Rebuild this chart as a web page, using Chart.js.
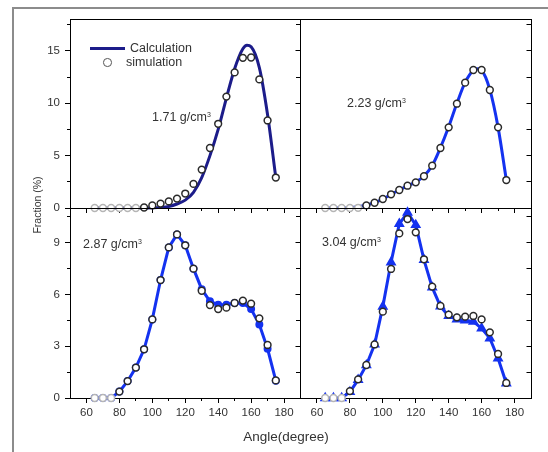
<!DOCTYPE html>
<html>
<head>
<meta charset="utf-8">
<script src="https://cdn.jsdelivr.net/npm/chart.js@4.4.0/dist/chart.umd.min.js"></script>
<style>
  body { margin: 0; background: #fff; }
  #wrap { position: relative; width: 548px; height: 452px; overflow: hidden;
          font-family: "Liberation Sans", Arial, sans-serif; color: #333; }
  canvas { position: absolute; left: 0; top: 0; }
  .frame { position: absolute; left: 12px; top: 7px; width: 600px; height: 500px;
           border-top: 2px solid #8c8c8c; border-left: 2px solid #8c8c8c; }
  .t { position: absolute; white-space: nowrap; font-size: 12.5px; line-height: 14px; }
  .t sup { font-size: 7px; vertical-align: top; position: relative; top: -2px; }
</style>
</head>
<body>
<div id="wrap">
  <div class="frame"></div>
  <canvas id="p171" width="548" height="452"></canvas>
  <canvas id="p223" width="548" height="452"></canvas>
  <canvas id="p287" width="548" height="452"></canvas>
  <canvas id="p304" width="548" height="452"></canvas>

  <!-- legend -->
  <div style="position:absolute;left:90px;top:46.5px;width:35px;height:3px;background:#1c1c8a"></div>
  <div class="t" style="left:130px;top:41px">Calculation</div>
  <div style="position:absolute;left:103px;top:58px;width:8.5px;height:8.5px;box-sizing:border-box;border:1.4px solid #555;border-radius:50%;background:#fff"></div>
  <div class="t" style="left:126px;top:55px">simulation</div>

  <!-- densities -->
  <div class="t" style="left:152px;top:110px">1.71 g/cm<sup>3</sup></div>
  <div class="t" style="left:347px;top:96px">2.23 g/cm<sup>3</sup></div>
  <div class="t" style="left:83px;top:237px">2.87 g/cm<sup>3</sup></div>
  <div class="t" style="left:322px;top:235px">3.04 g/cm<sup>3</sup></div>

  <!-- axis titles -->
  <div class="t" style="left:-3px;top:198px;width:80px;text-align:center;font-size:10.5px;transform:rotate(-90deg)">Fraction (%)</div>
  <div class="t" style="left:236px;top:430px;width:100px;text-align:center;font-size:13.5px">Angle(degree)</div>
</div>

<script>
// simulation angles (degree)
const angles = [65, 70, 75, 80, 85, 90, 95, 100, 105, 110, 115, 120, 125, 130, 135, 140, 145, 150, 155, 160, 165, 170, 175];
const peakAngles = [65, 70, 75, 80, 85, 90, 95, 100, 105, 110, 115, 120, 125, 130, 135, 140, 145, 150, 155, 157.5, 160, 165, 170, 175];

// 1.71 g/cm3
const sim171 = [0, 0, 0, 0, 0, 0, 0.05, 0.25, 0.42, 0.63, 0.9, 1.38, 2.3, 3.67, 5.73, 8.04, 10.64, 12.95, 14.34, 14.37, 12.28, 8.36, 2.91];
const calc171 = [0, 0, 0, 0, 0, 0, 0, 0.02, 0.06, 0.15, 0.38, 0.75, 1.5, 2.9, 5.0, 7.5, 10.5, 13.3, 15.2, 15.55, 15.4, 13.4, 8.9, 2.9];
// 2.23 g/cm3
const sim223 = [0, 0, 0, 0, 0.02, 0.25, 0.5, 0.86, 1.31, 1.72, 2.13, 2.45, 3.03, 4.04, 5.73, 7.7, 9.96, 11.97, 13.18, 13.18, 11.27, 7.7, 2.67];
const calc223 = [0, 0, 0, 0.03, 0.12, 0.28, 0.52, 0.85, 1.3, 1.72, 2.12, 2.47, 3.05, 4.05, 5.75, 7.75, 10.0, 12.0, 13.15, 13.3, 13.15, 11.3, 7.7, 2.7];
// 2.87 g/cm3
const sim287 = [0, 0, 0, 0.37, 0.98, 1.76, 2.82, 4.55, 6.83, 8.72, 9.47, 8.84, 7.49, 6.21, 5.38, 5.15, 5.23, 5.5, 5.64, 5.46, 4.61, 3.07, 1.02];
const calc287 = [0, 0, 0, 0.37, 0.98, 1.76, 2.82, 4.55, 6.83, 8.72, 9.47, 8.84, 7.49, 6.3, 5.6, 5.4, 5.4, 5.5, 5.5, 5.15, 4.25, 2.85, 1.0];
// 3.04 g/cm3
const sim304 = [0, 0, 0, 0.4, 1.08, 1.91, 3.1, 5.0, 7.47, 9.53, 10.36, 9.59, 8.03, 6.45, 5.33, 4.83, 4.67, 4.71, 4.75, 4.55, 3.8, 2.55, 0.87];
const calc304 = [0, 0, 0, 0.35, 1.05, 1.9, 3.1, 5.29, 7.86, 10.08, 10.73, 10.02, 8.0, 6.4, 5.3, 4.75, 4.55, 4.5, 4.42, 4.03, 3.46, 2.3, 0.85];

// ticks
const xMajorTicks = [60, 80, 100, 120, 140, 160, 180];
const xMinorTicks = [60, 70, 80, 90, 100, 110, 120, 130, 140, 150, 160, 170, 180];
const yTopMajorTicks = [0, 5, 10, 15];
const yTopMinorTicks = [0, 2.5, 5, 7.5, 10, 12.5, 15, 17.5];
const yBottomMajorTicks = [0, 3, 6, 9];
const yBottomMinorTicks = [0, 1.5, 3, 4.5, 6, 7.5, 9, 10.5];

const pts = (xs, ys) => xs.map((x, i) => ({ x: x, y: ys[i] }));
const setTicks = vals => s => { s.ticks = vals.map(v => ({ value: v })); };
const font = { family: '"Liberation Sans", Arial, sans-serif', size: 11.5 };

function simSet(values) {
  return {
    data: pts(angles, values), showLine: false, order: 1, clip: false,
    pointRadius: 3.4, pointBorderWidth: 1.5, pointBackgroundColor: '#fff',
    pointBorderColor: c => (c.raw && c.raw.y < 0.03) ? '#b5b5b5' : '#2a2a2a'
  };
}

function makePanel(id, area, yMax, yMajor, yMinor, xLabels, yLabels, datasets) {
  new Chart(document.getElementById(id), {
    type: 'scatter',
    data: { datasets: datasets },
    options: {
      animation: false, responsive: false, devicePixelRatio: 1, events: [],
      layout: { padding: { left: area.left - 30, right: 548 - area.right, top: area.top, bottom: 452 - area.bottom - 20 } },
      plugins: { legend: { display: false }, tooltip: { enabled: false } },
      scales: {
        x: {
          type: 'linear', position: 'bottom', weight: 1, min: 50, max: 190,
          afterBuildTicks: setTicks(xMajorTicks), afterFit: s => { s.height = 20; },
          ticks: { display: xLabels, font: font, color: '#333', padding: 3, autoSkip: false, maxRotation: 0 },
          grid: { drawOnChartArea: false, tickLength: 5, color: '#000' },
          border: { color: '#000' }
        },
        xMinor: {
          type: 'linear', position: 'bottom', weight: 0, min: 50, max: 190,
          afterBuildTicks: setTicks(xMinorTicks), afterFit: s => { s.height = 0; },
          ticks: { display: false, autoSkip: false },
          grid: { drawOnChartArea: false, tickLength: 3, color: '#000' },
          border: { display: false }
        },
        xTop: {
          type: 'linear', position: 'top', min: 50, max: 190,
          afterFit: s => { s.height = 0; },
          ticks: { display: false },
          grid: { drawOnChartArea: false, drawTicks: false },
          border: { color: '#000' }
        },
        y: {
          type: 'linear', position: 'left', weight: 1, min: 0, max: yMax,
          afterBuildTicks: setTicks(yMajor), afterFit: s => { s.width = 30; },
          ticks: { display: yLabels, font: font, color: '#333', padding: 5, autoSkip: false },
          grid: { drawOnChartArea: false, tickLength: 5, color: '#000' },
          border: { color: '#000' }
        },
        yMinor: {
          type: 'linear', position: 'left', weight: 0, min: 0, max: yMax,
          afterBuildTicks: setTicks(yMinor), afterFit: s => { s.width = 0; },
          ticks: { display: false, autoSkip: false },
          grid: { drawOnChartArea: false, tickLength: 3, color: '#000' },
          border: { display: false }
        },
        yRight: {
          type: 'linear', position: 'right', min: 0, max: yMax,
          afterBuildTicks: setTicks(yMinor), afterFit: s => { s.width = 0; },
          ticks: { display: false, autoSkip: false },
          grid: { drawOnChartArea: false, tickLength: -4.5, color: '#000' },
          border: { color: '#000' }
        }
      }
    }
  });
}

const blue = '#1432f0';

makePanel('p171', { left: 70, right: 300.5, top: 19.5, bottom: 208 }, 18, yTopMajorTicks, yTopMinorTicks, false, true, [
  simSet(sim171),
  { data: pts(peakAngles, calc171), showLine: true, order: 2, clip: false, borderColor: '#1c1c8a', borderWidth: 3,
    pointRadius: 0, cubicInterpolationMode: 'monotone' }
]);

makePanel('p223', { left: 300.5, right: 531, top: 19.5, bottom: 208 }, 18, yTopMajorTicks, yTopMinorTicks, false, false, [
  simSet(sim223),
  { data: pts(peakAngles, calc223), showLine: true, order: 2, clip: false, borderColor: blue, borderWidth: 3,
    pointRadius: 0, cubicInterpolationMode: 'monotone' }
]);

makePanel('p287', { left: 70, right: 300.5, top: 208, bottom: 398 }, 11, yBottomMajorTicks, yBottomMinorTicks, true, true, [
  simSet(sim287),
  { data: pts(angles, calc287), showLine: true, order: 2, clip: false, borderColor: blue, borderWidth: 3,
    pointRadius: 2.5, pointStyle: 'circle', pointBackgroundColor: blue, pointBorderColor: blue, tension: 0 }
]);

makePanel('p304', { left: 300.5, right: 531, top: 208, bottom: 398 }, 11, yBottomMajorTicks, yBottomMinorTicks, true, false, [
  simSet(sim304),
  { data: pts(angles, calc304), showLine: true, order: 2, clip: false, borderColor: blue, borderWidth: 3,
    pointRadius: 3.3, pointStyle: 'triangle', pointBackgroundColor: blue, pointBorderColor: blue, tension: 0 }
]);
</script>
</body>
</html>
